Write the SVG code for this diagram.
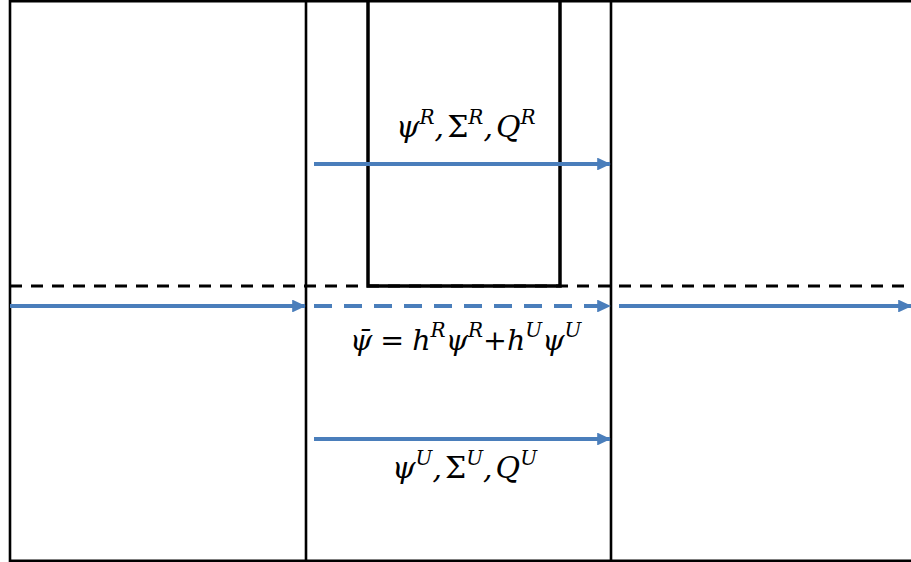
<svg xmlns="http://www.w3.org/2000/svg" width="911" height="562" viewBox="0 0 911 562">
<style>
.frame{stroke:#000;stroke-width:2.6;fill:none}
.box{stroke:#000;stroke-width:3.5;fill:none}
.dash{stroke:#000;stroke-width:3;stroke-dasharray:12,9;fill:none}
.arr{stroke:#4a7ebb;stroke-width:4;fill:none}
.arrd{stroke:#4a7ebb;stroke-width:4;fill:none;stroke-dasharray:18,12}
.m{font-family:"DejaVu Serif","Liberation Serif",serif;font-style:italic;font-size:30px;fill:#000}
.u{font-family:"DejaVu Serif","Liberation Serif",serif;font-style:normal}
.s{font-size:20px}
.mx{font-size:28.5px}
</style>
<defs>
<marker id="ah" markerWidth="3.4" markerHeight="3.2" refX="3.2" refY="1.6" orient="auto" markerUnits="strokeWidth">
<path d="M0,0 L3.4,1.6 L0,3.2 z" fill="#4a7ebb"/>
</marker>
</defs>
<g id="frame">
<path class="frame" d="M10,1.3 H911 M10,0 V562 M9,560.7 H911 M306,0 V562 M611,0 V562"/>
</g>
<g id="inner-box">
<path class="box" d="M368,0 V286 H560 V0"/>
</g>
<g id="boundary">
<line class="dash" x1="10" y1="286" x2="911" y2="286"/>
</g>
<g id="connectors">
<line class="arr" x1="314" y1="164" x2="610" y2="164" marker-end="url(#ah)"/>
<line class="arr" x1="10" y1="306" x2="305" y2="306" marker-end="url(#ah)"/>
<line class="arrd" x1="314" y1="306" x2="610" y2="306" marker-end="url(#ah)"/>
<line class="arr" x1="619" y1="306" x2="911" y2="306" marker-end="url(#ah)"/>
<line class="arr" x1="314" y1="439" x2="610" y2="439" marker-end="url(#ah)"/>
</g>
<g id="label-R">
<text class="m" x="396" y="137">ψ<tspan class="s" dy="-13">R</tspan><tspan dy="13">,</tspan><tspan class="u" dx="3">Σ</tspan><tspan class="s" dy="-13">R</tspan><tspan dy="13">,</tspan><tspan dx="3">Q</tspan><tspan class="s" dy="-13">R</tspan></text>
</g>
<g id="label-mix">
<text class="m mx" x="350" y="350">ψ̄<tspan class="u" dx="8">=</tspan><tspan dx="8">h</tspan><tspan class="s" dy="-13">R</tspan><tspan dy="13">ψ</tspan><tspan class="s" dy="-13">R</tspan><tspan class="u" dy="13">+</tspan>h<tspan class="s" dy="-13">U</tspan><tspan dy="13">ψ</tspan><tspan class="s" dy="-13">U</tspan></text>
</g>
<g id="label-U">
<text class="m" x="392" y="478">ψ<tspan class="s" dy="-13">U</tspan><tspan dy="13">,</tspan><tspan class="u" dx="3">Σ</tspan><tspan class="s" dy="-13">U</tspan><tspan dy="13">,</tspan><tspan dx="3">Q</tspan><tspan class="s" dy="-13">U</tspan></text>
</g>
</svg>
